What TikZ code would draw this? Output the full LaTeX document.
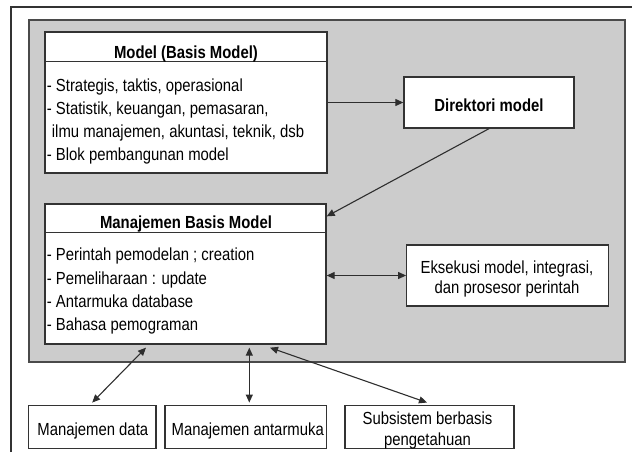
\documentclass[tikz,border=0pt]{standalone}
\usepackage{fontspec}
\setmainfont{Liberation Sans}[FakeStretch=0.85]
\usetikzlibrary{arrows.meta}

\definecolor{panelgray}{HTML}{CCCCCC}
\definecolor{panelline}{HTML}{4A4A4A}
\definecolor{boxline}{HTML}{333333}
\definecolor{arrowline}{HTML}{2E2E2E}

\tikzset{
  panel/.style={fill=panelgray, draw=panelline, line width=1.5pt},
  box/.style={draw=boxline, fill=white, line width=1.3pt, inner sep=0pt},
  txt/.style={inner sep=0pt, font=\fontsize{17.5}{23}\selectfont},
  hdr/.style={txt, anchor=base, font=\fontsize{17.5}{23}\selectfont\bfseries},
  lbl/.style={txt, anchor=base},
  tip/.tip={Triangle[length=8pt,width=7pt]},
  arr/.style={draw=arrowline, line width=1.1pt, -tip},
  darr/.style={draw=arrowline, line width=1.1pt, tip-tip},
}

\begin{document}
\begin{tikzpicture}[x=1pt, y=-1pt]
\useasboundingbox (0,0) rectangle (632,456);

% outer frame (left and top edges)
\draw[draw=boxline, line width=1.3pt] (11,452) -- (11,7) -- (632,7);

% grey panel holding the model subsystem
\draw[panel] (29,20) rectangle (625,362);

% model base
\node[box, minimum width=282pt, minimum height=141pt] (model) at (186,102.5) {};
\draw[draw=boxline, line width=1.3pt] ([yshift=-30pt]model.north west) -- ([yshift=-30pt]model.north east);
\node[hdr] (modelhead) at (186,58.3) {Model (Basis Model)};
\node[txt, anchor=north west, align=left] (modelbody) at (46.7,78.7)
  {- Strategis, taktis, operasional\\
   - Statistik, keuangan, pemasaran,\\
   \hspace{5pt}ilmu manajemen, akuntasi, teknik, dsb\\
   - Blok pembangunan model};

% model directory
\node[box, minimum width=170pt, minimum height=51pt] (dir) at (489,102.5) {};
\node[hdr] (dirtext) at (489,111) {Direktori model};

% model base management
\node[box, minimum width=281pt, minimum height=140pt] (mbm) at (185.5,274) {};
\draw[draw=boxline, line width=1.3pt] ([yshift=-29pt]mbm.north west) -- ([yshift=-29pt]mbm.north east);
\node[hdr] (mbmhead) at (186,228.5) {Manajemen Basis Model};
\node[txt, anchor=north west, align=left, font=\fontsize{17.5}{23.3}\selectfont] (mbmbody) at (46.7,247.9)
  {- Perintah pemodelan ; creation\\
   - Pemeliharaan : update\\
   - Antarmuka database\\
   - Bahasa pemograman};

% execution / integration / command processor
\node[box, minimum width=201.5pt, minimum height=61pt] (eks) at (507.5,275.5) {};
\node[txt, anchor=north, align=center, font=\fontsize{17.5}{20}\selectfont] (ekstext) at (507,260.5)
  {Eksekusi model, integrasi,\\ dan prosesor perintah};

% external subsystems
\node[box, minimum width=127.7pt, minimum height=43pt] (md) at (92.2,426.7) {};
\node[lbl] (mdtext) at (92.8,435) {Manajemen data};
\node[box, minimum width=161.7pt, minimum height=43pt] (ma) at (245.8,426.7) {};
\node[lbl] (matext) at (247.8,435) {Manajemen antarmuka};
\node[box, minimum width=169pt, minimum height=43pt] (sub) at (429.5,426.7) {};
\node[txt, anchor=north, align=center, font=\fontsize{17.5}{20.7}\selectfont] (subtext) at (427.5,411.5)
  {Subsistem berbasis\\ pengetahuan};

% connectors
\draw[arr] (model.east) -- (dir.west);
\draw[arr] (dir.south) -- ([yshift=-13pt]mbm.north east);
\draw[darr] (mbm.east |- eks.west) -- (eks.west);
\draw[darr] ([xshift=-39.5pt,yshift=-3pt]mbm.south) -- ([yshift=2pt]md.north);
\draw[darr] ([xshift=63.8pt,yshift=-3pt]mbm.south) -- ([xshift=3.5pt,yshift=2pt]ma.north);
\draw[darr] ([xshift=84.5pt,yshift=-3pt]mbm.south) -- ([xshift=-2.5pt,yshift=2pt]sub.north);
\end{tikzpicture}
\end{document}
